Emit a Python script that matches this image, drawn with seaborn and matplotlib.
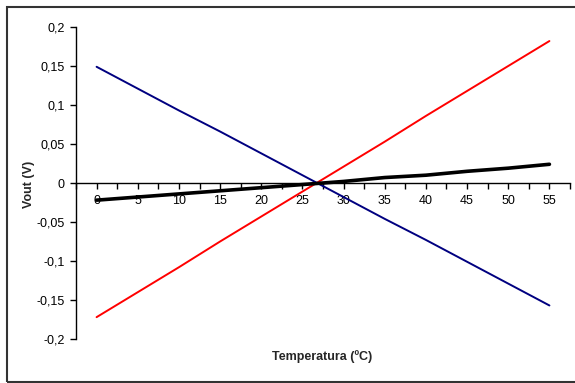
import matplotlib
matplotlib.use("Agg")
import matplotlib.pyplot as plt
import matplotlib.patches as mpatches
from matplotlib.ticker import MultipleLocator, FuncFormatter
import seaborn as sns
import pandas as pd

temperatura = [0, 5, 10, 15, 20, 25, 30, 35, 40, 45, 50, 55]
vout_negro = [-0.022, -0.018, -0.014, -0.010, -0.006, -0.002, 0.002, 0.007, 0.010, 0.015, 0.019, 0.024]
vout_azul = [0.149, 0.121, 0.093, 0.066, 0.038, 0.010, -0.018, -0.046, -0.073, -0.101, -0.129, -0.157]
vout_rojo = [-0.172, -0.140, -0.108, -0.075, -0.043, -0.011, 0.021, 0.053, 0.086, 0.118, 0.150, 0.182]
y_ticks = [-0.2, -0.15, -0.1, -0.05, 0, 0.05, 0.1, 0.15, 0.2]

sns.set_style("white")
plt.rcParams['font.family'] = ['Liberation Sans', 'DejaVu Sans']

fig = plt.figure(figsize=(5.75, 3.83), dpi=100)
ax = fig.add_axes([76/575, 1-339/383, (570-76)/575, (339-27)/383])

df = pd.DataFrame({"T": temperatura, "negro": vout_negro, "azul": vout_azul, "rojo": vout_rojo})
sns.lineplot(data=df, x="T", y="azul", color="#000080", linewidth=1.4, ax=ax)
sns.lineplot(data=df, x="T", y="rojo", color="#FF0000", linewidth=1.4, ax=ax)
sns.lineplot(data=df, x="T", y="negro", color="black", linewidth=2.6, ax=ax)

ax.set_xlim(-2.5, 57.5)
ax.set_ylim(-0.2, 0.2)
ax.set_yticks(y_ticks)

def fmt(v, pos):
    if abs(v) < 1e-9:
        return "0"
    s = ("%.2f" % v).rstrip("0").rstrip(".")
    return s.replace(".", ",")

ax.yaxis.set_major_formatter(FuncFormatter(fmt))
ax.xaxis.set_major_locator(MultipleLocator(5))
ax.xaxis.set_minor_locator(MultipleLocator(2.5))

for s in ["top", "right"]:
    ax.spines[s].set_visible(False)
ax.spines["bottom"].set_position(("data", 0))
ax.spines["left"].set_color("black")
ax.spines["bottom"].set_color("black")
ax.spines["left"].set_linewidth(1.0)
ax.spines["bottom"].set_linewidth(1.0)

ax.tick_params(axis="both", which="both", direction="out", length=4, width=1, color="black",
               labelsize=9, labelcolor="black")
ax.tick_params(axis="x", which="both", bottom=True, pad=5)
ax.tick_params(axis="y", which="both", left=True, pad=4)
ax.grid(False)

ax.set_xlabel("")
ax.set_ylabel("")
fig.text(29/575, 1-184/383, "Vout (V)", rotation=90, ha="center", va="center",
         fontsize=9, fontweight="bold")
fig.text(322/575, 1-357/383, "Temperatura (ºC)", ha="center", va="center",
         fontsize=9, fontweight="bold")

border = mpatches.Rectangle((7/575, 1-382/383), 1.0, (382-7)/383, transform=fig.transFigure,
                            fill=False, edgecolor="#333333", linewidth=1.5)
fig.patches.append(border)

fig.savefig("out.png", dpi=100)
